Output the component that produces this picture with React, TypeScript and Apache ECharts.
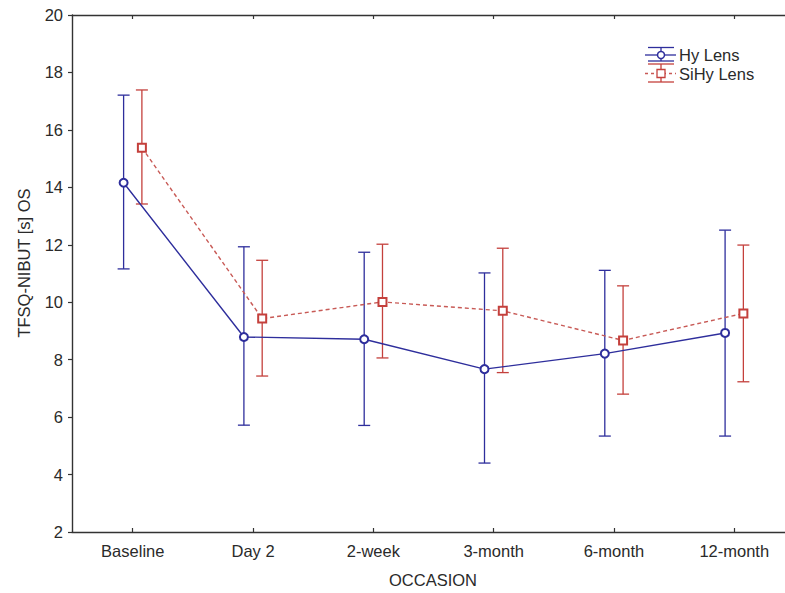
import React, { useEffect, useRef } from "react";
import * as echarts from "echarts";

const categories = ["Baseline", "Day 2", "2-week", "3-month", "6-month", "12-month"];
const hyMean = [14.16, 8.79, 8.71, 7.67, 8.21, 8.93];
const hyLow = [11.16, 5.72, 5.71, 4.4, 5.34, 5.34];
const hyHigh = [17.21, 11.93, 11.74, 11.02, 11.11, 12.51];
const siMean = [15.38, 9.43, 10.01, 9.7, 8.67, 9.61];
const siLow = [13.42, 7.43, 8.06, 7.55, 6.8, 7.23];
const siHigh = [17.39, 11.46, 12.02, 11.88, 10.57, 11.99];
const yTicks = [2, 4, 6, 8, 10, 12, 14, 16, 18, 20];

const BLUE = "#2e2e9c";
const RED = "#c4403c";
const FONT = "'Liberation Sans', Arial, sans-serif";
const TEXT = "#2a2a2a";
const OFF = 0.076;

function errorBar(color: string) {
  return (params: any, api: any) => {
    const x = api.value(0);
    const pLo = api.coord([x, api.value(1)]);
    const pHi = api.coord([x, api.value(2)]);
    const hw = 6;
    const style = { stroke: color, lineWidth: 1.3 };
    return {
      type: "group",
      children: [
        { type: "line", shape: { x1: pLo[0], y1: pLo[1], x2: pHi[0], y2: pHi[1] }, style },
        { type: "line", shape: { x1: pHi[0] - hw, y1: pHi[1], x2: pHi[0] + hw, y2: pHi[1] }, style },
        { type: "line", shape: { x1: pLo[0] - hw, y1: pLo[1], x2: pLo[0] + hw, y2: pLo[1] }, style },
      ],
    };
  };
}

export default function App() {
  const ref = useRef<HTMLDivElement>(null);
  useEffect(() => {
    if (!ref.current) return;
    const chart = echarts.init(ref.current, null, { renderer: "svg" });
    const idx = categories.map((_, i) => i);
    const xMin = -0.505;
    const xMax = 5.422;
    const option: any = {
      animation: false,
      backgroundColor: "#ffffff",
      grid: { left: 72, right: 0, top: 15, bottom: 61 },
      xAxis: [
        {
          type: "value",
          min: xMin,
          max: xMax,
          position: "bottom",
          splitLine: { show: false },
          axisLine: { show: true, onZero: false, lineStyle: { color: "#333", width: 1.4 } },
          axisTick: { show: true, inside: true, length: 4, customValues: idx, lineStyle: { color: "#333", width: 1.2 } },
          axisLabel: {
            customValues: idx,
            formatter: (v: number) => categories[Math.round(v)] ?? "",
            fontSize: 16.5,
            fontFamily: FONT,
            color: TEXT,
            margin: 10,
          },
        },
        {
          type: "value",
          min: xMin,
          max: xMax,
          position: "top",
          splitLine: { show: false },
          axisLine: { show: true, onZero: false, lineStyle: { color: "#333", width: 1.4 } },
          axisTick: { show: true, inside: true, length: 4, customValues: idx, lineStyle: { color: "#333", width: 1.2 } },
          axisLabel: { show: false },
        },
      ],
      yAxis: {
        type: "value",
        min: 2,
        max: 20,
        interval: 2,
        position: "left",
        splitLine: { show: false },
        axisLine: { show: true, onZero: false, lineStyle: { color: "#333", width: 1.4 } },
        axisTick: { show: true, inside: false, length: 4, lineStyle: { color: "#333", width: 1.2 } },
        axisLabel: {
          fontSize: 16.5,
          fontFamily: FONT,
          color: TEXT,
          margin: 9,
          formatter: (v: number) => (yTicks.includes(v) ? String(v) : ""),
        },
      },
      series: [
        {
          type: "custom",
          name: "Hy Lens bars",
          renderItem: errorBar(BLUE),
          data: idx.map((i) => [i - OFF, hyLow[i], hyHigh[i]]),
          z: 1,
          silent: true,
        },
        {
          type: "custom",
          name: "SiHy Lens bars",
          renderItem: errorBar(RED),
          data: idx.map((i) => [i + OFF, siLow[i], siHigh[i]]),
          z: 1,
          silent: true,
        },
        {
          type: "line",
          name: "SiHy Lens",
          data: idx.map((i) => [i + OFF, siMean[i]]),
          symbol: "emptyRect",
          symbolSize: 8,
          lineStyle: { color: "#c85a56", width: 1.4, type: [4, 3] },
          itemStyle: { color: RED, borderWidth: 1.3 },
          z: 3,
        },
        {
          type: "line",
          name: "Hy Lens",
          data: idx.map((i) => [i - OFF, hyMean[i]]),
          symbol: "emptyCircle",
          symbolSize: 8,
          lineStyle: { color: BLUE, width: 1.4 },
          itemStyle: { color: BLUE, borderWidth: 1.5 },
          z: 4,
        },
      ],
      graphic: [
        {
          type: "text",
          x: 24,
          y: 263,
          rotation: Math.PI / 2,
          style: {
            text: "TFSQ-NIBUT [s] OS",
            fontSize: 16.5,
            fontFamily: FONT,
            fill: TEXT,
            align: "center",
            verticalAlign: "middle",
          },
        },
        {
          type: "text",
          x: 433,
          y: 580,
          style: {
            text: "OCCASION",
            fontSize: 16.5,
            fontFamily: FONT,
            fill: TEXT,
            align: "center",
            verticalAlign: "middle",
          },
        },
        // legend: Hy Lens
        { type: "line", shape: { x1: 648, y1: 47.5, x2: 674, y2: 47.5 }, style: { stroke: BLUE, lineWidth: 1.3 } },
        { type: "line", shape: { x1: 648, y1: 61, x2: 674, y2: 61 }, style: { stroke: BLUE, lineWidth: 1.3 } },
        { type: "line", shape: { x1: 661, y1: 47.5, x2: 661, y2: 61 }, style: { stroke: BLUE, lineWidth: 1.3 } },
        { type: "line", shape: { x1: 645, y1: 55, x2: 676, y2: 55 }, style: { stroke: BLUE, lineWidth: 1.3 } },
        { type: "circle", shape: { cx: 661, cy: 55, r: 3.5 }, style: { stroke: BLUE, fill: "#fff", lineWidth: 1.5 } },
        {
          type: "text",
          x: 679,
          y: 55,
          style: { text: "Hy Lens", fontSize: 16.5, fontFamily: FONT, fill: TEXT, verticalAlign: "middle" },
        },
        // legend: SiHy Lens
        { type: "line", shape: { x1: 648, y1: 64, x2: 674, y2: 64 }, style: { stroke: RED, lineWidth: 1.3 } },
        { type: "line", shape: { x1: 648, y1: 82, x2: 674, y2: 82 }, style: { stroke: RED, lineWidth: 1.3 } },
        { type: "line", shape: { x1: 661, y1: 64, x2: 661, y2: 82 }, style: { stroke: RED, lineWidth: 1.3 } },
        { type: "line", shape: { x1: 645, y1: 73.5, x2: 676, y2: 73.5 }, style: { stroke: "#c85a56", lineWidth: 1.3, lineDash: [3, 3] } },
        { type: "rect", shape: { x: 657, y: 69.5, width: 8, height: 8 }, style: { stroke: RED, fill: "#fff", lineWidth: 1.3 } },
        {
          type: "text",
          x: 679,
          y: 74,
          style: { text: "SiHy Lens", fontSize: 16.5, fontFamily: FONT, fill: TEXT, verticalAlign: "middle" },
        },
      ],
    };
    chart.setOption(option);
    return () => chart.dispose();
  }, []);
  return (
    <div
      ref={ref}
      style={{ position: "absolute", left: 0, top: 0, width: 785, height: 593, background: "#fff" }}
    />
  );
}
